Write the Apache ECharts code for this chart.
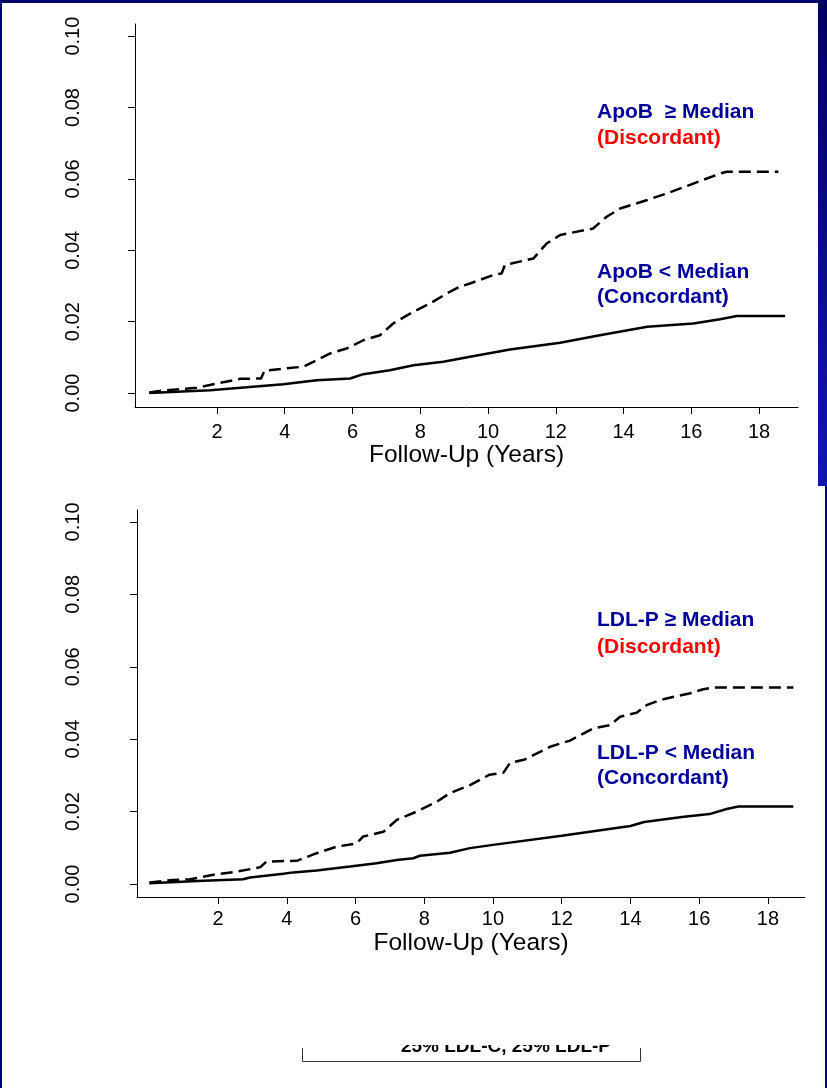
<!DOCTYPE html>
<html>
<head>
<meta charset="utf-8">
<script src="https://cdn.jsdelivr.net/npm/echarts@6/dist/echarts.min.js"></script>
<style>
  html, body { margin: 0; padding: 0; background: #ffffff; }
  #chart { width: 827px; height: 1088px; }
</style>
</head>
<body>
<div id="chart"></div>
<script>
// Cumulative incidence curves, follow-up in years
const xTicks = [2, 4, 6, 8, 10, 12, 14, 16, 18];
const yTicks = [0, 0.02, 0.04, 0.06, 0.08, 0.10];

// ApoB panel
const apobHigh = [
  [0, 0.0002], [0.5, 0.0008], [1.4, 0.0015], [2.0, 0.0027], [2.7, 0.0040], [3.3, 0.0041],
  [3.4, 0.0063], [4.55, 0.0074], [5.34, 0.0111], [5.83, 0.0125], [6.32, 0.0148],
  [6.81, 0.0162], [7.2, 0.0195], [7.8, 0.0228], [8.29, 0.0251], [8.78, 0.0279],
  [9.17, 0.0298], [9.47, 0.0307], [10.16, 0.0331], [10.4, 0.0335], [10.5, 0.0359],
  [11.34, 0.0377], [11.73, 0.0419], [12.13, 0.0443], [13.1, 0.0461], [13.5, 0.0494],
  [13.9, 0.0517], [14.7, 0.0541], [15.27, 0.0559], [16.06, 0.0587], [16.85, 0.0615],
  [17.05, 0.0620], [18.57, 0.0620]
];
const apobLow = [
  [0, 0], [1.8, 0.0008], [2.88, 0.0016], [3.96, 0.0025], [4.94, 0.0036], [5.93, 0.0041],
  [6.32, 0.0053], [7.1, 0.0064], [7.8, 0.0078], [8.68, 0.0088], [9.47, 0.0102],
  [10.65, 0.0122], [12.13, 0.0141], [13.3, 0.0162], [14.7, 0.0186], [16.06, 0.0195],
  [16.85, 0.0207], [17.34, 0.0216], [18.77, 0.0216]
];

// LDL-P panel
const ldlpHigh = [
  [0, 0.0004], [0.69, 0.0011], [1.18, 0.0013], [1.96, 0.0027], [2.54, 0.0034], [3.22, 0.0046],
  [3.41, 0.0062], [4.29, 0.0064], [4.87, 0.0085], [5.45, 0.0103], [6.03, 0.0112],
  [6.22, 0.0131], [6.81, 0.0144], [7.2, 0.0177], [7.78, 0.0200], [8.36, 0.0227],
  [8.75, 0.0251], [9.33, 0.0273], [9.9, 0.0302], [10.3, 0.0307], [10.5, 0.0335],
  [10.9, 0.0343], [11.37, 0.0365], [11.66, 0.0379], [12.24, 0.0396], [12.92, 0.0430],
  [13.41, 0.0439], [13.7, 0.0462], [14.18, 0.0473], [14.47, 0.0494], [14.86, 0.0508],
  [15.35, 0.0519], [15.74, 0.0527], [16.12, 0.0538], [16.41, 0.0543], [18.74, 0.0543]
];
const ldlpLow = [
  [0, 0.0002], [1.57, 0.0009], [2.73, 0.0013], [2.93, 0.0018], [3.9, 0.0028], [4.19, 0.0032],
  [4.87, 0.0037], [5.84, 0.0048], [6.61, 0.0057], [7.2, 0.0066], [7.68, 0.0071],
  [7.87, 0.0078], [8.75, 0.0086], [9.33, 0.0099], [10.0, 0.0108], [12.0, 0.0133],
  [14.0, 0.0160], [14.4, 0.0171], [15.5, 0.0185], [16.3, 0.0193], [16.8, 0.0207],
  [17.14, 0.0214], [18.74, 0.0214]
];

const axisTitle = 'Follow-Up (Years)';
const footText = '25% LDL-C, 25% LDL-P';

const FONT = 'Liberation Sans, Arial, Helvetica, sans-serif';
const NAVY = '#000099';
const RED = '#ff0000';

function xAxisFor(gridIndex, min, max, labelMargin, nameGap) {
  return {
    type: 'value', gridIndex, min, max,
    name: axisTitle, nameLocation: 'middle', nameGap,
    nameTextStyle: { fontFamily: FONT, fontSize: 24.5, color: '#000' },
    axisLine: { show: true, onZero: false, lineStyle: { color: '#000', width: 1 } },
    axisTick: { show: true, length: 7, customValues: xTicks, lineStyle: { color: '#000' } },
    axisLabel: { show: true, customValues: xTicks, margin: labelMargin, fontFamily: FONT, fontSize: 20, color: '#000' },
    splitLine: { show: false }
  };
}
function yAxisFor(gridIndex, min, max, margin) {
  return {
    type: 'value', gridIndex, min, max,
    axisLine: { show: true, onZero: false, lineStyle: { color: '#000', width: 1 } },
    axisTick: { show: true, length: 7, customValues: yTicks, lineStyle: { color: '#000' } },
    axisLabel: {
      show: true, customValues: yTicks, rotate: 90, margin,
      fontFamily: FONT, fontSize: 20, color: '#000',
      formatter: v => v.toFixed(2)
    },
    splitLine: { show: false }
  };
}
function curve(data, xi, dashed) {
  return {
    type: 'line', xAxisIndex: xi, yAxisIndex: xi, data,
    showSymbol: false, symbol: 'none', animation: false, silent: true,
    lineStyle: { color: '#000', width: 2.5, type: dashed ? [12, 6] : 'solid' }
  };
}
function label(text, x, y, color) {
  return {
    type: 'text', left: x, top: y - 9, z: 10,
    style: { text, fill: color, font: 'bold 21px ' + FONT }
  };
}

const chart = echarts.init(document.getElementById('chart'), null, { renderer: 'canvas' });
chart.setOption({
  backgroundColor: '#ffffff',
  animation: false,
  grid: [
    { left: 135, right: 29, top: 24, bottom: 681 },
    { left: 137, right: 22, top: 510, bottom: 191 }
  ],
  xAxis: [xAxisFor(0, -0.42, 19.15, 15, 36), xAxisFor(1, -0.36, 19.08, 12, 34)],
  yAxis: [yAxisFor(0, -0.0039, 0.1034, 52), yAxisFor(1, -0.0036, 0.1033, 54)],
  series: [
    curve(apobHigh, 0, true),
    curve(apobLow, 0, false),
    curve(ldlpHigh, 1, true),
    curve(ldlpLow, 1, false)
  ],
  graphic: [
    label('ApoB  \u2265 Median', 597, 111, NAVY),
    label('(Discordant)', 597, 137, RED),
    label('ApoB < Median', 597, 271, NAVY),
    label('(Concordant)', 597, 296, NAVY),
    label('LDL-P \u2265 Median', 597, 619, NAVY),
    label('(Discordant)', 597, 646, RED),
    label('LDL-P < Median', 597, 752, NAVY),
    label('(Concordant)', 597, 777, NAVY),
    // slide frame
    { type: 'rect', shape: { x: 0, y: 0, width: 827, height: 3 }, style: { fill: '#000066' }, z: 20 },
    { type: 'rect', shape: { x: 0, y: 0, width: 2, height: 1088 }, style: { fill: '#000088' }, z: 20 },
    {
      type: 'rect', shape: { x: 818, y: 0, width: 9, height: 486 }, z: 20,
      style: {
        fill: new echarts.graphic.LinearGradient(0, 0, 0, 1, [
          { offset: 0, color: '#000060' },
          { offset: 1, color: '#1414b4' }
        ])
      }
    },
    { type: 'rect', shape: { x: 825, y: 486, width: 2, height: 602 }, style: { fill: '#000080' }, z: 20 },
    // footnote box, partly hidden behind the panel
    {
      type: 'text', z: 5,
      style: { text: footText, x: 506, y: 1056, align: 'center', verticalAlign: 'bottom', fill: '#000', font: 'bold 19px ' + FONT }
    },
    { type: 'rect', shape: { x: 380, y: 990, width: 260, height: 55 }, style: { fill: '#ffffff' }, z: 6 },
    {
      type: 'polyline', z: 7,
      shape: { points: [[302.5, 1048], [302.5, 1061.5], [640.5, 1061.5], [640.5, 1048]] },
      style: { stroke: '#333', lineWidth: 1, fill: null }
    }
  ]
});
</script>
</body>
</html>
